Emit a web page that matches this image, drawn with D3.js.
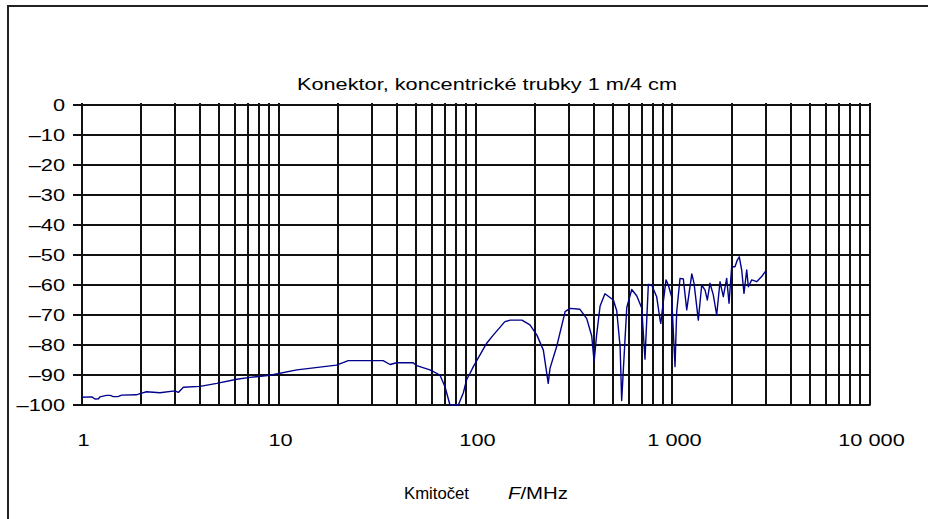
<!DOCTYPE html>
<html>
<head>
<meta charset="utf-8">
<script src="https://cdn.jsdelivr.net/npm/d3@7"></script>
<style>
  html, body { margin: 0; padding: 0; background: #fff; }
  svg { display: block; }
  text { font-family: "Liberation Sans", Arial, sans-serif; fill: #000; }
</style>
</head>
<body>
<svg id="chart" width="928" height="519"></svg>
<script>
// Insertion loss of the connector, concentric tubes 1 m / 4 cm
const freqMHz = [
  1.0, 1.13, 1.17, 1.22, 1.24, 1.34, 1.40, 1.45, 1.53, 1.60, 1.90, 1.98, 2.14, 2.5, 2.98, 3.1, 3.29,
  4.0, 4.86, 6.14, 7.17, 9.05, 12.4, 19.7, 22.6, 34.0, 36.8, 39.8, 48.3, 50.3, 58.7, 66.0, 70.0,
  74.2, 81.8, 86.7, 90.2, 93.7, 97.5, 105.4, 114, 123, 141, 150, 172, 189, 205, 221, 234, 239,
  258, 285, 302, 339, 367, 389, 400, 412, 429, 454, 501, 521, 542, 552, 563, 586, 621, 658, 698,
  725, 754, 784, 831, 864, 872, 898, 927, 952, 990, 1030, 1050, 1092, 1135, 1181, 1253, 1286,
  1352, 1407, 1463, 1503, 1550, 1611, 1676, 1742, 1811, 1884, 1936, 1997, 2076, 2133, 2183,
  2245, 2306, 2381, 2427, 2524, 2674, 2836, 2949, 3008
];
const lossDb = [
  -97.4, -97.3, -98.0, -97.9, -97.3, -96.8, -96.8, -97.2, -97.2, -96.7, -96.6, -96.2, -95.6, -95.9, -95.3, -95.8, -94.1,
  -93.8, -92.8, -91.4, -90.8, -90.1, -88.3, -86.7, -85.2, -85.2, -86.5, -85.9, -85.9, -86.9, -88.3, -90.0, -93.9,
  -100, -100, -96, -91.5, -89.5, -87.2, -83.3, -79.4, -76.7, -72.2, -71.7, -71.7, -73.3, -76.7, -81.7, -92.8, -87.7,
  -80.6, -68.9, -67.8, -68.1, -71.2, -77, -85.5, -76.6, -67, -62.9, -65, -68.6, -80.5, -98.5, -88.3, -67.5, -61.5, -63.6, -67.7,
  -84.7, -59.8, -60, -63.9, -71.5, -72.8, -65.6, -58.3, -60, -63.9, -87.2, -69, -57.8, -58, -68.3, -56.3, -59.4,
  -71.7, -60, -61.7, -65, -59.4, -63.3, -70, -58.9, -63.9, -57.8, -66.1, -53.9, -53.9, -51.7, -50.6,
  -55, -62.8, -55, -60.6, -58.3, -58.9, -57.2, -55.6, -56.1
];

const xTickValues = [1, 10, 100, 1000, 10000];
const xTickLabels = ["1", "10", "100", "1 000", "10 000"];
const yTickValues = [0, -10, -20, -30, -40, -50, -60, -70, -80, -90, -100];
const yTickLabels = ["0", "–10", "–20", "–30", "–40", "–50", "–60", "–70", "–80", "–90", "–100"];
const chartTitle = "Konektor, koncentrické trubky 1 m/4 cm";
const xTitleMain = "Kmitočet";
const xTitleVar = "F";
const xTitleUnit = "/MHz";

const svg = d3.select("#chart");

// outer frame (right and bottom edges fall outside the canvas)
svg.append("rect")
  .attr("x", 8).attr("y", 6).attr("width", 960).attr("height", 560)
  .attr("fill", "none").attr("stroke", "#222").attr("stroke-width", 2);

const x = d3.scaleLog().domain([1, 10000]).range([81.5, 869.5]);
const y = d3.scaleLinear().domain([-100, 0]).range([405, 105]);

// vertical grid: 1..9 in each decade
const gridFreqs = [];
[1, 10, 100, 1000].forEach(d => { for (let k = 1; k <= 9; k++) gridFreqs.push(d * k); });
gridFreqs.push(10000);

const grid = svg.append("g").attr("stroke", "#111").attr("stroke-width", 2);
grid.selectAll("line.v").data(gridFreqs).join("line")
  .attr("class", "v")
  .attr("x1", d => Math.round(x(d))).attr("x2", d => Math.round(x(d)))
  .attr("y1", y(0) - 2).attr("y2", y(-100));

grid.selectAll("line.h").data(yTickValues).join("line")
  .attr("class", "h")
  .attr("x1", 73).attr("x2", x(10000) + 1)
  .attr("y1", d => y(d)).attr("y2", d => y(d));

// y tick labels
const sx = 1.28;
svg.append("g").selectAll("text").data(yTickValues).join("text")
  .attr("transform", d => `translate(65,${y(d) + 6}) scale(${sx},1)`)
  .attr("text-anchor", "end")
  .attr("font-size", 17)
  .text((d, i) => yTickLabels[i]);

// x tick labels
svg.append("g").selectAll("text").data(xTickValues).join("text")
  .attr("transform", d => `translate(${x(d) + 2},446) scale(${sx},1)`)
  .attr("text-anchor", "middle")
  .attr("font-size", 17)
  .text((d, i) => xTickLabels[i]);

// title
svg.append("text")
  .attr("x", 297).attr("y", 90)
  .attr("font-size", 17)
  .attr("textLength", 380).attr("lengthAdjust", "spacingAndGlyphs")
  .text(chartTitle);

// axis title
svg.append("text")
  .attr("x", 404).attr("y", 499)
  .attr("font-size", 17)
  .attr("textLength", 65).attr("lengthAdjust", "spacingAndGlyphs")
  .text(xTitleMain);
const unit = svg.append("text")
  .attr("x", 508).attr("y", 499)
  .attr("font-size", 17)
  .attr("textLength", 60).attr("lengthAdjust", "spacingAndGlyphs");
unit.append("tspan").attr("font-style", "italic").text(xTitleVar);
unit.append("tspan").text(xTitleUnit);

// measured curve
const pts = freqMHz.map((f, i) => [f, lossDb[i]]);
svg.append("path")
  .datum(pts)
  .attr("fill", "none")
  .attr("stroke", "#00008b")
  .attr("stroke-width", 1.4)
  .attr("stroke-linejoin", "round")
  .attr("d", d3.line().x(d => x(d[0])).y(d => y(d[1])));
</script>
</body>
</html>
